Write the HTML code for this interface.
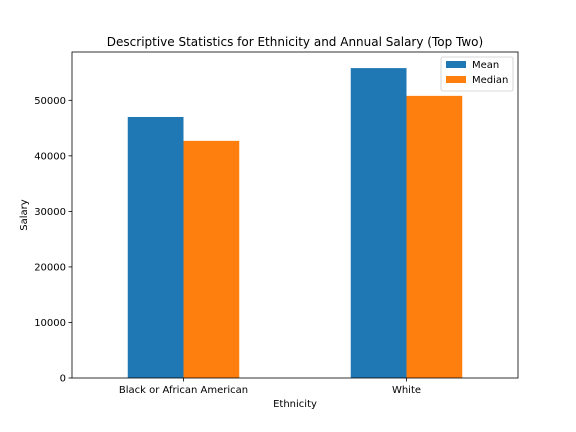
<!DOCTYPE html>
<html><head><meta charset="utf-8"><style>body{margin:0;background:#fff}svg{display:block;font-family:"DejaVu Sans","Liberation Sans",sans-serif}</style></head>
<body>
<svg id="c" width="576" height="432"></svg>
<script>
const categories = ["Black or African American", "White"];
const seriesNames = ["Mean", "Median"];
const meanValues = [47000, 55800];
const medianValues = [42700, 50800];
const yTicks = [0, 10000, 20000, 30000, 40000, 50000];
const colors = ["#1f77b4", "#ff7f0e"];
const L=72,R=518,T=52,B=378,yMax=58700;
const xS=v=>L+(v+0.5)/2*(R-L);
const yS=v=>B-v/yMax*(B-T);
const svg=document.getElementById('c');
const NS='http://www.w3.org/2000/svg';
function mk(t,a,p){const e=document.createElementNS(NS,t);for(const k in a)e.setAttribute(k,a[k]);(p||svg).appendChild(e);return e;}
const series=[meanValues,medianValues];
series.forEach((vals,s)=>{vals.forEach((v,i)=>{
 const x0=xS(i-0.25+s*0.25),x1=xS(i+s*0.25);
 const r=mk('rect',{x:x0,y:yS(v),width:x1-x0,height:B-yS(v),fill:colors[s]});
 
 
});});
const ax=mk('rect',{x:L,y:T,width:R-L,height:B-T,fill:'none',stroke:'#000','stroke-width':0.8});

yTicks.forEach(v=>{const y=yS(v);mk('line',{x1:L-3.5,x2:L,y1:y,y2:y,stroke:'#000','stroke-width':0.8});
 const t=mk('text',{x:L-6,y:y+3.5,'text-anchor':'end','font-size':10});t.textContent=v;
 });
categories.forEach((c,i)=>{const x=xS(i);mk('line',{x1:x,x2:x,y1:B,y2:B+3.5,stroke:'#000','stroke-width':0.8});
 const t=mk('text',{x:x,y:B+15,'text-anchor':'middle','font-size':10});t.textContent=c;
 });
let t=mk('text',{x:(L+R)/2,y:407,'text-anchor':'middle','font-size':10});t.textContent='Ethnicity';

t=mk('text',{x:27,y:(T+B)/2,'text-anchor':'middle','font-size':10,transform:`rotate(-90 27 ${(T+B)/2})`});t.textContent='Salary';

t=mk('text',{x:(L+R)/2,y:46,'text-anchor':'middle','font-size':12});t.textContent='Descriptive Statistics for Ethnicity and Annual Salary (Top Two)';

const lg=mk('g',{});
mk('rect',{x:441,y:57,width:72,height:34,fill:'#fff',stroke:'#ccc','stroke-width':0.8,rx:2},lg);
seriesNames.forEach((n,s)=>{const y=61+s*15;
 mk('rect',{x:446,y:y,width:20,height:7,fill:colors[s]},lg);
 const e=mk('text',{x:472,y:y+7,'font-size':10},lg);e.textContent=n;
 });
</script>
</body></html>
